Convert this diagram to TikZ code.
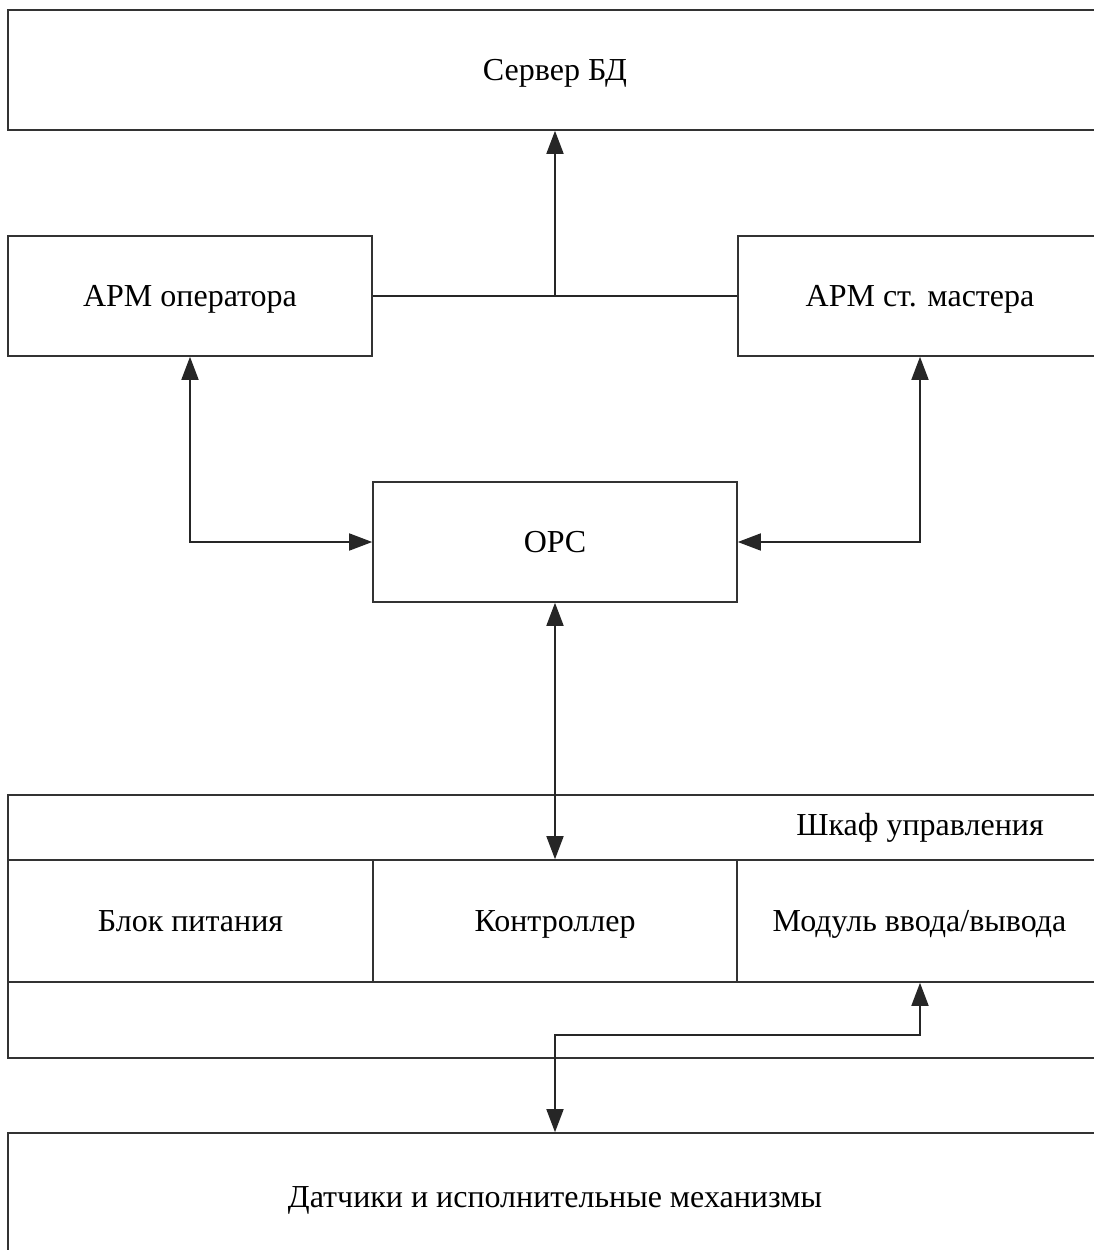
\documentclass[tikz,border=0pt]{standalone}
\usepackage{fontspec}
\setmainfont{Liberation Serif}
\usetikzlibrary{arrows.meta}
\begin{document}
\begin{tikzpicture}[x=1pt,y=-1pt,
  txt/.style={font=\fontsize{32}{36}\selectfont,text height=26pt,text depth=5pt},
  box/.style={draw=black!80,line width=1.6pt,rectangle,inner sep=0pt,
    minimum height=120pt,txt},
  wide/.style={box,minimum width=1094pt},
  half/.style={box,minimum width=364pt},
  lbl/.style={inner sep=0pt,txt},
  link/.style={draw=black!85,line width=1.7pt},
  tip/.style={-{Triangle[length=23pt,width=17pt]}},
  tips/.style={{Triangle[length=23pt,width=17pt]}-{Triangle[length=23pt,width=17pt]}}]
  \useasboundingbox (0,0) rectangle (1094,1250);
  \clip (0,0) rectangle (1094,1250);
  \fill[white] (0,0) rectangle (1094,1250);

  % upper level
  \node[wide] (server) at (555,70) {Сервер БД};
  \node[half] (apmop) at (190,296) {АРМ оператора};
  \node[half] (apmm) at (920,296) {АРМ ст. мастера};
  \node[half] (opc) at (555,542) {OPC};

  % control cabinet: outer frame, caption and three modules sharing borders
  \node[wide,minimum height=263pt] (cab) at (555,926.5) {};
  \node[lbl] (cabt) at (920,825) {Шкаф управления};
  \node[half,minimum width=365pt,minimum height=122pt] (psu) at (190.5,921) {Блок питания};
  \node[half,minimum height=122pt] (ctrl) at (555,921) {Контроллер};
  \node[half,minimum width=365pt,minimum height=122pt] (io) at (919.5,921) {Модуль ввода/вывода};

  % field level
  \node[wide,minimum height=128pt] (sens) at (555,1197) {Датчики и исполнительные механизмы};

  % connectors
  \draw[link] (apmop.east) -- (apmm.west);
  \coordinate (join) at (apmop.east -| server.south);
  \draw[link,tip] (join) -- (server.south);
  \draw[link,tips] (apmop.south) |- (opc.west);
  \draw[link,tips] (apmm.south) |- (opc.east);
  \draw[link,tips] (opc.south) -- (ctrl.north);
  \coordinate (iob) at (io.south -| apmm.south);
  \coordinate (bend) at (555,1035);
  \draw[link,tips] (iob) |- (bend) -- (sens.north);
\end{tikzpicture}
\end{document}
